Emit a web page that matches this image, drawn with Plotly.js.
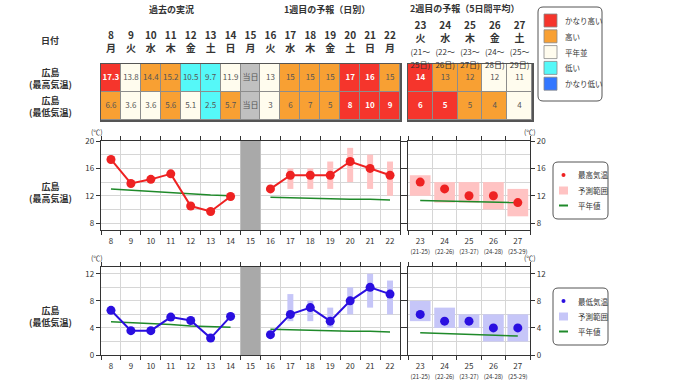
<!DOCTYPE html>
<html><head><meta charset="utf-8">
<script src="https://cdn.plot.ly/plotly-3.0.1.min.js"></script>
<style>html,body{margin:0;padding:0;background:#fff}#chart{width:680px;height:382px}</style>
</head><body><div id="chart"></div>
<script>
// ---------- data ----------
const pastDays = [8, 9, 10, 11, 12, 13, 14];
const pastWeekdays = ['月', '火', '水', '木', '金', '土', '日'];
const todayDay = 15;
const todayWeekday = '月';
const todayText = '当日';
const week1Days = [16, 17, 18, 19, 20, 21, 22];
const week1Weekdays = ['火', '水', '木', '金', '土', '日', '月'];
const week2Days = [23, 24, 25, 26, 27];
const week2Weekdays = ['火', '水', '木', '金', '土'];
const week2Start = [21, 22, 23, 24, 25];
const week2End = [25, 26, 27, 28, 29];

const obsMax = [17.3, 13.8, 14.4, 15.2, 10.5, 9.7, 11.9];
const obsMin = [6.6, 3.6, 3.6, 5.6, 5.1, 2.5, 5.7];
const fcMax = [13, 15, 15, 15, 17, 16, 15];
const fcMaxLo = [null, 13, 13, 13, 14, 13, 12];
const fcMaxHi = [null, 16, 16, 17, 19, 18, 17];
const fcMin = [3, 6, 7, 5, 8, 10, 9];
const fcMinLo = [null, 5, 5, 4, 6, 7, 6];
const fcMinHi = [null, 9, 8, 7, 10, 12, 11];
const w2Max = [14, 13, 12, 12, 11];
const w2MaxLo = [12, 11, 11, 10, 9];
const w2MaxHi = [15, 14, 14, 14, 13];
const w2Min = [6, 5, 5, 4, 4];
const w2MinLo = [5, 4, 4, 2, 2];
const w2MinHi = [8, 7, 6, 6, 6];

const normMaxPast = [13.0, 12.8, 12.6, 12.5, 12.3, 12.1, 12.0];
const normMaxW1 = [11.8, 11.7, 11.7, 11.6, 11.5, 11.5, 11.4];
const normMaxW2 = [11.3, 11.2, 11.2, 11.1, 11.0];
const normMinPast = [4.9, 4.8, 4.6, 4.5, 4.3, 4.2, 4.1];
const normMinW1 = [3.8, 3.7, 3.7, 3.6, 3.5, 3.5, 3.4];
const normMinW2 = [3.3, 3.2, 3.1, 2.9, 2.8];

// class codes: vl=かなり低い, l=低い, n=平年並, h=高い, vh=かなり高い, t=当日
const maxClassPast = ['vh', 'n', 'h', 'h', 'l', 'l', 'n'];
const maxClassW1 = ['n', 'h', 'h', 'h', 'vh', 'vh', 'h'];
const maxClassW2 = ['vh', 'h', 'h', 'n', 'n'];
const minClassPast = ['h', 'n', 'n', 'h', 'n', 'l', 'h'];
const minClassW1 = ['n', 'h', 'h', 'h', 'vh', 'vh', 'vh'];
const minClassW2 = ['vh', 'vh', 'h', 'h', 'n'];

const classCodes = ['vl', 'l', 'n', 'h', 'vh', 't'];
const classColors = ['#3377ff', '#55f8f8', '#fffcee', '#f8a033', '#f5352c', '#c0c0c0'];
const legendLabels = ['かなり高い', '高い', '平年並', '低い', 'かなり低い'];
const legendCodes = ['vh', 'h', 'n', 'l', 'vl'];

const sectionTitles = ['過去の実況', '1週目の予報（日別）', '2週目の予報（5日間平均）'];
const rowTitles = ['広島<br>(最高気温)', '広島<br>(最低気温)'];
const chartLegendMax = ['最高気温', '予測範囲', '平年値'];
const chartLegendMin = ['最低気温', '予測範囲', '平年値'];

// ---------- helpers ----------
const W = 680, H = 382;
const px = v => v / W;
const py = v => 1 - v / H;
const FONT = '"Noto Sans CJK JP", "Noto Sans", sans-serif';
const TXT = '#333';
const GRID = '#d6d6d6';
const RED = '#ee2222', BLUE = '#2a0fe0', GREEN = '#1f8a2a';
const PINK = '#ffc3c3', LAV = '#c6c6f8';

const codeIdx = c => classCodes.indexOf(c);
const cscale = [];
classColors.forEach((c, i) => { cscale.push([i / 6, c]); cscale.push([(i + 1) / 6, c]); });

const days1 = [...pastDays, todayDay, ...week1Days];
const wd1 = [...pastWeekdays, todayWeekday, ...week1Weekdays];
const maxText1 = [...obsMax.map(String), todayText, ...fcMax.map(String)];
const minText1 = [...obsMin.map(String), todayText, ...fcMin.map(String)];
const maxCls1 = [...maxClassPast, 't', ...maxClassW1];
const minCls1 = [...minClassPast, 't', ...minClassW1];

const cellTextColor = c => c === 'vh' ? '#ffffff' : '#555555';
const cellText = (t, c) => c === 'vh' ? '<b>' + t + '</b>' : t;

const traces = [];
// table week1 + today
traces.push({type: 'heatmap', x: days1, y: [0, 1], z: [maxCls1.map(codeIdx), minCls1.map(codeIdx)],
  colorscale: cscale, zmin: -0.5, zmax: 5.5, showscale: false, xgap: 1, ygap: 1,
  hoverinfo: 'skip', xaxis: 'x', yaxis: 'y'});
traces.push({type: 'scatter', mode: 'text', x: [...days1, ...days1],
  y: [...days1.map(() => 0), ...days1.map(() => 1)],
  text: [...maxText1.map((t, i) => cellText(t, maxCls1[i])), ...minText1.map((t, i) => cellText(t, minCls1[i]))],
  textfont: {size: 8, family: FONT, color: [...maxCls1.map(cellTextColor), ...minCls1.map(cellTextColor)]},
  hoverinfo: 'skip', showlegend: false, cliponaxis: false, xaxis: 'x', yaxis: 'y'});
// table week2
traces.push({type: 'heatmap', x: week2Days, y: [0, 1], z: [maxClassW2.map(codeIdx), minClassW2.map(codeIdx)],
  colorscale: cscale, zmin: -0.5, zmax: 5.5, showscale: false, xgap: 1, ygap: 1,
  hoverinfo: 'skip', xaxis: 'x2', yaxis: 'y2'});
traces.push({type: 'scatter', mode: 'text', x: [...week2Days, ...week2Days],
  y: [...week2Days.map(() => 0), ...week2Days.map(() => 1)],
  text: [...w2Max.map((t, i) => cellText(String(t), maxClassW2[i])), ...w2Min.map((t, i) => cellText(String(t), minClassW2[i]))],
  textfont: {size: 8, family: FONT, color: [...maxClassW2.map(cellTextColor), ...minClassW2.map(cellTextColor)]},
  hoverinfo: 'skip', showlegend: false, cliponaxis: false, xaxis: 'x2', yaxis: 'y2'});

function addChart(xa, ya, xb, yb, obs, fc, lo, hi, nPast, nW1, w2, w2lo, w2hi, nW2, color, rangeColor) {
  const ax = {xaxis: xa, yaxis: ya, hoverinfo: 'skip', showlegend: false};
  const bx = {xaxis: xb, yaxis: yb, hoverinfo: 'skip', showlegend: false};
  traces.push({type: 'bar', x: week1Days, base: lo, y: hi.map((h, i) => h == null ? null : h - lo[i]),
    width: 0.3, marker: {color: rangeColor, line: {width: 0}}, ...ax});
  traces.push({type: 'scatter', mode: 'lines', x: pastDays, y: nPast, line: {color: GREEN, width: 1.5}, ...ax});
  traces.push({type: 'scatter', mode: 'lines', x: week1Days, y: nW1, line: {color: GREEN, width: 1.5}, ...ax});
  traces.push({type: 'scatter', mode: 'lines+markers', x: pastDays, y: obs,
    line: {color: color, width: 2}, marker: {color: color, size: 9}, ...ax});
  traces.push({type: 'scatter', mode: 'lines+markers', x: week1Days, y: fc,
    line: {color: color, width: 2}, marker: {color: color, size: 9}, ...ax});
  traces.push({type: 'bar', x: week2Days, base: w2lo, y: w2hi.map((h, i) => h - w2lo[i]),
    width: 0.85, marker: {color: rangeColor, line: {width: 0}}, ...bx});
  traces.push({type: 'scatter', mode: 'lines', x: week2Days, y: nW2, line: {color: GREEN, width: 1.5}, ...bx});
  traces.push({type: 'scatter', mode: 'markers', x: week2Days, y: w2, marker: {color: color, size: 9}, ...bx});
}
addChart('x3', 'y3', 'x4', 'y4', obsMax, fcMax, fcMaxLo, fcMaxHi, normMaxPast, normMaxW1, w2Max, w2MaxLo, w2MaxHi, normMaxW2, RED, PINK);
addChart('x5', 'y5', 'x6', 'y6', obsMin, fcMin, fcMinLo, fcMinHi, normMinPast, normMinW1, w2Min, w2MinLo, w2MinHi, normMinW2, BLUE, LAV);

// ---------- axes ----------
const tableX1 = {domain: [px(101), px(400)], range: [7.5, 22.5], anchor: 'y', side: 'top',
  tickmode: 'array', tickvals: days1, ticktext: days1.map((d, i) => '<b>' + d + '</b><br><b>' + wd1[i] + '</b>'),
  ticks: 'outside', ticklen: 7, tickcolor: 'rgba(0,0,0,0)', tickfont: {size: 10, color: TXT, family: FONT},
  showgrid: false, zeroline: false, showline: true, mirror: true, linecolor: '#555', linewidth: 1.5, fixedrange: true};
const tableX2 = {domain: [px(408), px(532)], range: [22.5, 27.5], anchor: 'y2', side: 'top',
  tickmode: 'array', tickvals: week2Days,
  ticktext: week2Days.map((d, i) => '<b>' + d + '</b><br><b>' + week2Weekdays[i] + '</b><br><span style="font-size:8px">(' + week2Start[i] + '～</span><br><span style="font-size:8px">' + week2End[i] + '日)</span>'),
  ticks: '', ticklabelstandoff: -9, tickfont: {size: 10, color: TXT, family: FONT},
  showgrid: false, zeroline: false, showline: true, mirror: true, linecolor: '#555', linewidth: 1.5, fixedrange: true};
const tableY = (anchor) => ({domain: [py(120), py(64)], range: [1.5, -0.5], anchor: anchor,
  showticklabels: false, ticks: '', showgrid: false, zeroline: false, showline: true, mirror: true,
  linecolor: '#555', linewidth: 1.5, fixedrange: true});

const halves = (a, b) => { const r = []; for (let v = a; v <= b; v++) r.push(v + 0.5); return r; };
function chartX(domain, range, vals, text, anchor, first, last) {
  return {domain, range, anchor, tickmode: 'array', tickvals: vals, ticktext: text,
    ticks: 'outside', ticklen: 3, tickcolor: 'rgba(0,0,0,0)', tickfont: {size: 8, color: TXT, family: FONT},
    showgrid: false, zeroline: false, showline: true, mirror: 'ticks', linecolor: '#333', linewidth: 1.2,
    minor: {tickmode: 'array', tickvals: halves(first, last), ticks: 'outside', ticklen: 4, tickcolor: '#333',
      showgrid: true, gridcolor: GRID, gridwidth: 1}, fixedrange: true};
}
function chartY(domain, range, vals, minorVals, anchor, side) {
  return {domain, range, anchor, side, tickmode: 'array', tickvals: vals, ticks: 'outside', ticklen: 4,
    tickcolor: '#333', tickfont: {size: 8, color: TXT, family: FONT}, showgrid: true, gridcolor: GRID,
    minor: {tickmode: 'array', tickvals: minorVals, ticks: '', showgrid: true, gridcolor: GRID},
    showline: true, mirror: 'ticks', linecolor: '#333', linewidth: 1.2, zeroline: false, fixedrange: true,
    showticklabels: true};
}
const w2TickText = week2Days.map((d, i) => d + '<br><span style="font-size:6px">(' + week2Start[i] + '-' + week2End[i] + ')</span>');
const dom1 = [py(230), py(141)];
const dom2 = [py(355), py(267)];
const leftDom = [px(101), px(400)];
const rightDom = [px(408), px(530)];

const shapes = [];
const annotations = [];
// table backgrounds (gap colour)
shapes.push({type: 'rect', xref: 'x domain', yref: 'y domain', x0: 0, x1: 1, y0: 0, y1: 1, fillcolor: '#8c8c8c', line: {width: 0}, layer: 'below'});
shapes.push({type: 'rect', xref: 'x2 domain', yref: 'y2 domain', x0: 0, x1: 1, y0: 0, y1: 1, fillcolor: '#8c8c8c', line: {width: 0}, layer: 'below'});
// today grey band
shapes.push({type: 'rect', xref: 'x3', yref: 'y3 domain', x0: todayDay - 0.5, x1: todayDay + 0.5, y0: 0, y1: 1, fillcolor: '#a9a9a9', line: {width: 0}, layer: 'above'});
shapes.push({type: 'rect', xref: 'x5', yref: 'y5 domain', x0: todayDay - 0.5, x1: todayDay + 0.5, y0: 0, y1: 1, fillcolor: '#a9a9a9', line: {width: 0}, layer: 'above'});

function roundRect(x0, y0, x1, y1, r) {
  const rx = r / W, ry = r / H;
  const X0 = px(x0), X1 = px(x1), Y0 = py(y0), Y1 = py(y1);
  return `M ${X0 + rx} ${Y0} L ${X1 - rx} ${Y0} Q ${X1} ${Y0} ${X1} ${Y0 - ry} L ${X1} ${Y1 + ry} Q ${X1} ${Y1} ${X1 - rx} ${Y1} L ${X0 + rx} ${Y1} Q ${X0} ${Y1} ${X0} ${Y1 + ry} L ${X0} ${Y0 - ry} Q ${X0} ${Y0} ${X0 + rx} ${Y0} Z`;
}
// colour legend
shapes.push({type: 'path', xref: 'paper', yref: 'paper', path: roundRect(538, 7, 602, 101, 5), line: {color: '#555', width: 1}, fillcolor: 'rgba(255,255,255,0)'});
legendCodes.forEach((c, i) => {
  const yc = 20.5 + i * 15.8;
  shapes.push({type: 'rect', xref: 'paper', yref: 'paper', x0: px(544), x1: px(557), y0: py(yc + 6.5), y1: py(yc - 6.5),
    fillcolor: classColors[codeIdx(c)], line: {color: '#888', width: 0.8}});
  annotations.push({xref: 'paper', yref: 'paper', x: px(563), y: py(yc), xanchor: 'left', yanchor: 'middle',
    text: legendLabels[i], showarrow: false, font: {size: 7.5, color: TXT, family: FONT}});
});
// chart legends
function chartLegend(top, labels, color, rangeColor) {
  shapes.push({type: 'path', xref: 'paper', yref: 'paper', path: roundRect(553, top, 608, top + 57, 5), line: {color: '#555', width: 1}, fillcolor: 'rgba(255,255,255,0)'});
  const y1 = top + 13, y2 = top + 28.5, y3 = top + 43.5;
  shapes.push({type: 'circle', xref: 'paper', yref: 'paper', x0: px(561.5), x1: px(565.5), y0: py(y1 + 2), y1: py(y1 - 2), fillcolor: color, line: {width: 0}});
  shapes.push({type: 'rect', xref: 'paper', yref: 'paper', x0: px(559), x1: px(568), y0: py(y2 + 4), y1: py(y2 - 4), fillcolor: rangeColor, line: {width: 0}});
  shapes.push({type: 'line', xref: 'paper', yref: 'paper', x0: px(559), x1: px(568), y0: py(y3), y1: py(y3), line: {color: GREEN, width: 2}});
  [y1, y2, y3].forEach((y, i) => annotations.push({xref: 'paper', yref: 'paper', x: px(576), y: py(y), xanchor: 'left', yanchor: 'middle',
    text: labels[i], showarrow: false, font: {size: 7.5, color: TXT, family: FONT}}));
}
chartLegend(162, chartLegendMax, RED, PINK);
chartLegend(288, chartLegendMin, BLUE, LAV);

// titles & labels
const ann = (x, y, text, size, extra) => annotations.push(Object.assign({xref: 'paper', yref: 'paper', x: px(x), y: py(y),
  xanchor: 'center', yanchor: 'middle', text, showarrow: false, align: 'center', font: {size, color: TXT, family: FONT}}, extra || {}));
ann(171, 10, '<b>' + sectionTitles[0] + '</b>', 9);
ann(327, 10, '<b>' + sectionTitles[1] + '</b>', 9);
ann(465, 8, '<b>' + sectionTitles[2] + '</b>', 9);
ann(50, 40, '<b>日付</b>', 9);
ann(50, 78, '<b>' + rowTitles[0] + '</b>', 9);
ann(50, 106, '<b>' + rowTitles[1] + '</b>', 9);
ann(50, 192, '<b>' + rowTitles[0] + '</b>', 9);
ann(50, 316, '<b>' + rowTitles[1] + '</b>', 9);
ann(97, 131.5, '(℃)', 7);
ann(530, 131.5, '(℃)', 7);
ann(97, 257.5, '(℃)', 7);
ann(530, 257.5, '(℃)', 7);

const layout = {
  width: W, height: H, margin: {l: 0, r: 0, t: 0, b: 0}, paper_bgcolor: '#fff', plot_bgcolor: '#fff',
  showlegend: false, barmode: 'overlay', font: {family: FONT, color: TXT},
  xaxis: tableX1, yaxis: tableY('x'), xaxis2: tableX2, yaxis2: tableY('x2'),
  xaxis3: chartX(leftDom, [7.5, 22.5], days1, days1.map(String), 'y3', 7, 22),
  yaxis3: chartY(dom1, [7, 20], [8, 12, 16, 20], [10, 14, 18], 'x3', 'left'),
  xaxis4: chartX(rightDom, [22.5, 27.5], week2Days, w2TickText, 'y4', 22, 27),
  yaxis4: chartY(dom1, [7, 20], [8, 12, 16, 20], [10, 14, 18], 'x4', 'right'),
  xaxis5: chartX(leftDom, [7.5, 22.5], days1, days1.map(String), 'y5', 7, 22),
  yaxis5: chartY(dom2, [0, 13], [0, 4, 8, 12], [2, 6, 10], 'x5', 'left'),
  xaxis6: chartX(rightDom, [22.5, 27.5], week2Days, w2TickText, 'y6', 22, 27),
  yaxis6: chartY(dom2, [0, 13], [0, 4, 8, 12], [2, 6, 10], 'x6', 'right'),
  shapes, annotations
};
Plotly.newPlot('chart', traces, layout, {staticPlot: true, displayModeBar: false});
</script>
</body></html>
